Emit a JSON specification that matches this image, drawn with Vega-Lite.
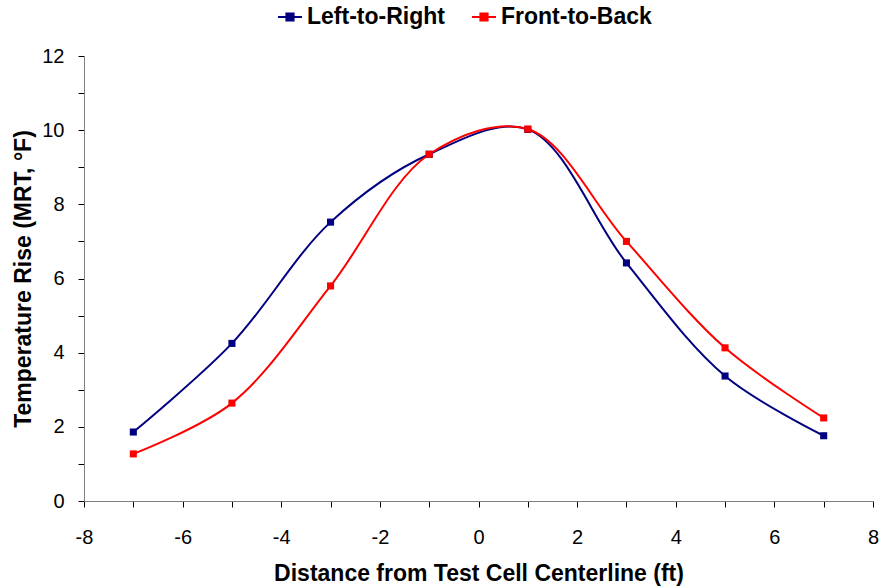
{
  "$schema": "https://vega.github.io/schema/vega-lite/v6.json",
  "autosize": {"type": "none"},
  "padding": {"left": 84, "top": 56, "right": 15, "bottom": 87},
  "width": 789,
  "height": 445,
  "background": "white",
  "config": {
    "view": {"stroke": null},
    "font": "Liberation Sans",
    "axis": {"grid": false, "domainColor": "#808080", "tickColor": "#000000", "tickSize": 6, "labelFont": "Liberation Sans", "labelFontSize": 20, "labelColor": "#000000", "titleFont": "Liberation Sans", "titleFontSize": 23, "titleFontWeight": "bold", "titleColor": "#000000"}
  },
  "data": {
    "values": [
      {"x": -7, "y": 1.86, "series": "Left-to-Right"},
      {"x": -5, "y": 4.25, "series": "Left-to-Right"},
      {"x": -3, "y": 7.52, "series": "Left-to-Right"},
      {"x": -1, "y": 9.35, "series": "Left-to-Right"},
      {"x": 1, "y": 10.02, "series": "Left-to-Right"},
      {"x": 3, "y": 6.42, "series": "Left-to-Right"},
      {"x": 5, "y": 3.37, "series": "Left-to-Right"},
      {"x": 7, "y": 1.76, "series": "Left-to-Right"},
      {"x": -7, "y": 1.27, "series": "Front-to-Back"},
      {"x": -5, "y": 2.64, "series": "Front-to-Back"},
      {"x": -3, "y": 5.8, "series": "Front-to-Back"},
      {"x": -1, "y": 9.35, "series": "Front-to-Back"},
      {"x": 1, "y": 10.03, "series": "Front-to-Back"},
      {"x": 3, "y": 7.0, "series": "Front-to-Back"},
      {"x": 5, "y": 4.13, "series": "Front-to-Back"},
      {"x": 7, "y": 2.24, "series": "Front-to-Back"}
    ]
  },
  "mark": {"type": "line", "interpolate": "catmull-rom", "strokeWidth": 2, "point": {"shape": "square", "size": 50, "filled": true, "opacity": 1}},
  "encoding": {
    "x": {"field": "x", "type": "quantitative", "scale": {"domain": [-8, 8], "nice": false, "zero": false},
      "axis": {"title": "Distance from Test Cell Centerline (ft)", "values": [-8,-7,-6,-5,-4,-3,-2,-1,0,1,2,3,4,5,6,7,8], "labelExpr": "datum.value % 2 == 0 ? replace(datum.label, '\u2212', '-') : ''", "labelPadding": 20, "titlePadding": 15, "labelFlush": false}},
    "y": {"field": "y", "type": "quantitative", "scale": {"domain": [0, 12], "nice": false},
      "axis": {"title": "Temperature Rise (MRT, °F)", "values": [0,1,2,3,4,5,6,7,8,9,10,11,12], "labelExpr": "datum.value % 2 == 0 ? datum.label : ''", "labelPadding": 14, "titlePadding": 6, "labelFlush": false}},
    "color": {"field": "series", "type": "nominal", "sort": ["Left-to-Right", "Front-to-Back"],
      "scale": {"domain": ["Left-to-Right", "Front-to-Back"], "range": ["#000080", "#ff0000"]},
      "legend": {"title": null, "orient": "none", "legendX": 193, "legendY": -52, "direction": "horizontal", "labelFontSize": 23, "labelFontWeight": "bold", "labelFont": "Liberation Sans", "labelColor": "#000000", "symbolType": "M-1,0H1M-0.3,-0.3H0.3V0.3H-0.3Z", "symbolSize": 576, "symbolStrokeWidth": 2, "columnPadding": 23, "labelOffset": 4}}
  }
}
